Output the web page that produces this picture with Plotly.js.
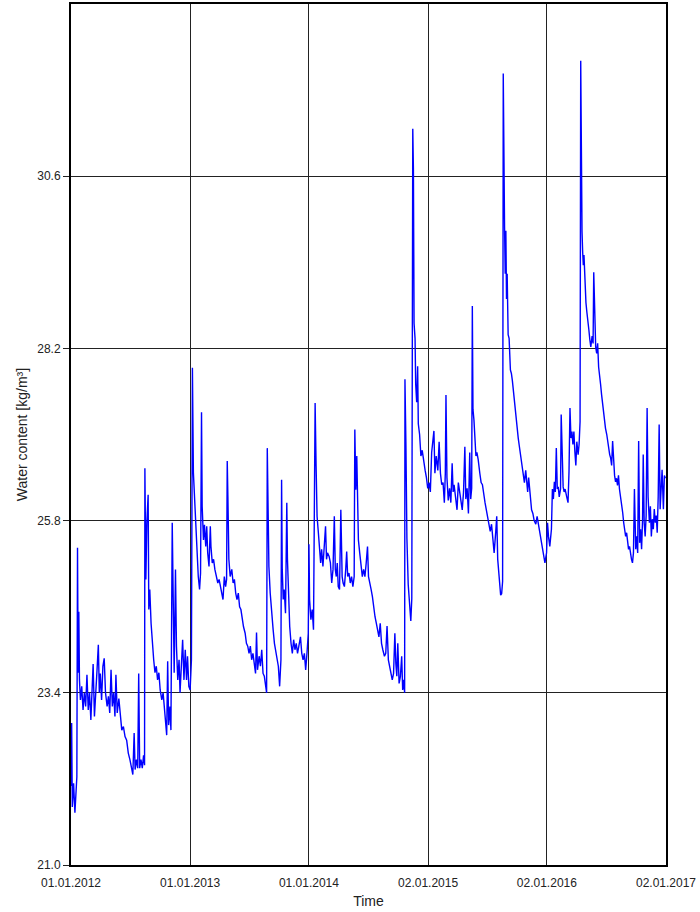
<!DOCTYPE html>
<html>
<head>
<meta charset="utf-8">
<script src="https://cdn.plot.ly/plotly-3.0.1.min.js"></script>
<style>
html,body{margin:0;padding:0;background:#fff;}
#chart{width:700px;height:912px;}
</style>
</head>
<body>
<div id="chart"></div>
<script>
// Day offsets from 01.01.2012 and water content [kg/m³]
const days2012 = [0,2,4,8,12,15,18,20,22,24,26,29,33,37,41,45,49,53,57,61,65,68,72,76,80,84,87,90,94,98,102,106,111,115,119,123,127,131,135,138,142,147,152,156,161,166,171,176,181,186,190,194,197,201,205,208,211,215,219,223,226,227,230,233,237,239,242,246,250,254,258,262,266,270,274,279,283,287,291,294,297,300,304,307,311,314,317,321,324,328,332,335,339,343,347,351,355,358,362];
const wc2012 = [22.10,22.98,21.81,22.14,21.73,22.00,22.23,25.42,23.68,24.53,23.58,23.30,23.49,23.16,23.40,23.21,23.65,23.16,23.40,23.02,23.40,23.80,23.07,23.49,23.72,24.07,23.40,23.67,23.30,23.77,23.88,23.40,23.21,23.35,23.12,23.72,23.21,23.40,23.07,23.65,23.12,23.32,23.02,22.88,22.93,22.79,22.74,22.56,22.47,22.33,22.26,22.84,22.33,22.47,22.35,23.67,22.35,22.47,22.35,22.53,22.39,26.53,24.98,25.77,26.16,24.56,24.84,24.37,24.05,23.86,23.68,23.77,23.58,23.68,23.44,23.30,23.40,23.16,23.02,22.81,23.84,22.95,23.21,22.88,25.77,24.14,23.68,25.12,24.05,23.58,23.86,23.40,23.81,24.14,23.58,24.00,23.58,23.91,23.49];

const days2013 = [366,370,373,376,381,384,387,391,395,398,401,403,407,410,414,417,420,424,428,430,434,438,442,446,451,455,459,463,467,471,475,478,480,482,485,489,494,498,502,506,510,514,518,522,526,530,535,539,543,547,551,555,559,563,567,570,573,578,582,586,590,594,598,601,603,605,608,612,616,621,625,629,633,637,641,645,647,649,652,655,659,663,665,668,672,676,680,684,688,692,696,700,705,709,713,717,721,725,729];
const wc2013 = [23.44,23.86,27.93,26.47,25.95,25.67,25.26,25.02,24.84,25.07,27.31,26.00,25.53,25.74,25.44,25.72,25.35,25.16,25.72,25.44,25.21,25.26,25.12,25.02,24.93,24.98,24.88,24.79,24.70,25.02,24.88,24.98,26.63,26.14,25.26,25.02,25.12,24.93,24.98,24.79,24.70,24.79,24.60,24.56,24.42,24.32,24.23,24.09,24.05,23.95,24.05,23.86,23.95,23.77,23.67,24.24,23.72,23.91,23.77,24.00,23.67,23.63,23.44,23.40,26.81,25.95,25.16,24.79,24.51,24.28,24.09,24.00,23.86,23.77,23.49,23.86,26.37,25.12,24.70,24.84,24.51,26.05,25.26,24.70,24.32,24.09,23.95,24.14,24.00,24.09,23.95,24.05,24.18,23.95,23.86,23.95,23.72,23.95,24.23];

const days2014 = [731,733,737,741,745,750,753,756,760,764,767,770,774,778,782,785,788,793,797,801,805,809,812,815,818,821,825,829,833,836,840,844,847,850,854,858,862,866,870,872,875,878,880,883,887,891,895,899,903,907,911,914,917,922,926,930,934,938,942,946,950,954,958,963,967,971,975,979,983,987,991,995,998,1001,1004,1008,1012,1016,1019,1022,1025,1026,1029,1032,1036,1040,1044,1047,1050,1052,1054,1057,1059,1062,1065,1067,1071,1075,1079,1084,1088,1092];
const wc2014 = [25.47,24.70,24.42,24.56,24.28,27.44,26.56,25.86,25.63,25.40,25.21,25.40,25.16,25.44,25.72,25.26,25.35,25.30,25.21,24.93,25.12,25.86,25.12,25.02,25.21,24.88,24.84,25.95,25.02,24.93,24.88,25.12,25.37,25.02,25.07,24.93,25.02,24.88,25.02,27.07,26.23,26.70,25.86,25.53,25.35,25.21,25.02,25.12,25.02,25.21,25.44,25.02,24.93,24.84,24.74,24.56,24.46,24.37,24.28,24.18,24.37,24.09,24.00,23.91,23.95,24.33,23.86,23.77,23.72,23.58,23.67,24.23,23.81,23.63,24.09,23.53,23.63,23.91,23.44,23.58,23.40,27.77,26.85,25.55,24.91,24.56,24.40,24.71,31.26,30.69,28.55,28.34,27.70,27.45,27.95,27.15,27.00,26.70,26.78,26.60,26.50,26.40];

const days2015 = [1096,1100,1104,1108,1112,1115,1118,1122,1127,1131,1135,1139,1143,1147,1150,1152,1155,1159,1163,1167,1171,1174,1177,1182,1186,1190,1194,1198,1202,1206,1210,1213,1217,1221,1225,1228,1231,1233,1235,1238,1241,1244,1247,1251,1256,1260,1264,1268,1272,1276,1280,1284,1288,1292,1296,1300,1305,1308,1311,1314,1317,1320,1323,1326,1328,1330,1332,1334,1336,1338,1340,1343,1346,1350,1353,1356,1359,1362,1365,1368,1371,1374,1377,1380,1385,1389,1393,1397,1400,1403,1406,1409,1412,1415,1419,1423,1428,1432,1436,1442,1446,1451,1456];
const wc2015 = [26.25,26.33,26.20,26.75,26.95,27.05,26.46,26.70,26.50,26.90,26.46,26.30,26.33,26.05,26.46,27.55,26.40,26.08,26.25,26.05,26.60,26.20,26.30,26.10,25.95,26.33,26.20,26.05,25.95,26.20,26.83,26.10,26.25,25.90,26.75,26.10,26.25,28.79,27.35,27.20,26.90,26.70,26.75,26.65,26.46,26.33,26.30,26.15,26.05,25.95,25.86,25.75,25.65,25.75,25.50,25.35,25.65,25.86,25.26,25.06,24.91,24.76,24.78,24.95,32.03,30.44,29.89,29.24,29.84,28.89,29.24,28.39,28.34,27.90,27.85,27.75,27.60,27.45,27.30,27.20,27.05,26.95,26.85,26.75,26.60,26.40,26.33,26.50,26.30,26.20,26.40,26.25,26.10,25.95,25.90,25.80,25.75,25.86,25.75,25.58,25.44,25.30,25.21];

const days2016 = [1461,1464,1467,1471,1476,1479,1482,1485,1488,1491,1494,1497,1500,1504,1506,1509,1512,1515,1518,1523,1527,1530,1533,1536,1539,1542,1545,1548,1551,1554,1558,1561,1564,1566,1568,1570,1572,1574,1576,1578,1580,1582,1585,1588,1591,1594,1597,1601,1604,1606,1609,1612,1615,1618,1621,1624,1627,1630,1633,1636,1639,1642,1646,1649,1652,1655,1658,1661,1664,1667,1670,1673,1676,1679,1682,1685,1689,1692,1695,1698,1701,1704,1707,1710,1713,1716,1719,1722,1725,1728,1731,1735,1738,1741,1744,1747,1750,1753,1756,1758,1761,1764,1767,1770,1773,1777,1780,1783,1786,1789,1792,1795,1798,1801,1804,1807,1810,1813,1816,1820,1823,1826];
const wc2016 = [25.35,25.77,25.58,25.44,25.68,26.24,26.10,26.34,26.20,26.81,26.24,26.27,26.13,26.24,27.28,26.53,26.27,26.20,26.24,26.13,26.05,26.48,27.37,26.95,27.04,26.86,27.04,26.76,26.57,26.90,26.72,26.86,27.18,32.21,30.04,29.83,29.54,29.36,29.50,29.26,28.98,28.84,28.70,28.60,28.46,28.32,28.22,28.37,28.27,29.26,28.46,28.22,28.13,28.27,27.94,27.85,27.70,27.56,27.42,27.28,27.19,27.09,27.00,26.91,26.76,26.72,26.67,26.57,26.91,26.53,26.43,26.34,26.39,26.29,26.43,26.24,26.13,26.00,25.91,25.77,25.68,25.58,25.63,25.49,25.40,25.44,25.30,25.26,25.21,25.35,26.24,25.40,25.58,25.35,26.91,25.49,25.68,25.40,25.82,26.72,25.77,25.58,25.87,27.37,26.13,25.77,26.00,25.58,25.82,25.68,25.96,25.77,25.87,25.63,26.13,27.14,25.96,26.27,26.51,25.96,26.43,26.39];

const xTickVals = ['2012-01-01','2013-01-01','2014-01-01','2015-01-02','2016-01-02','2017-01-02'];
const xTickText = ['01.01.2012','01.01.2013','01.01.2014','02.01.2015','02.01.2016','02.01.2017'];
const yTickVals = [21.0, 23.4, 25.8, 28.2, 30.6];
const yTickText = ['21.0','23.4','25.8','28.2','30.6'];

const BASE = Date.UTC(2012, 0, 1);
function toDate(d) {
  return new Date(BASE + d * 86400000).toISOString().slice(0, 10);
}
const allDays = [].concat(days2012, days2013, days2014, days2015, days2016);
const allWc = [].concat(wc2012, wc2013, wc2014, wc2015, wc2016);

const trace = {
  x: allDays.map(toDate),
  y: allWc,
  type: 'scatter',
  mode: 'lines',
  line: {color: '#0000ff', width: 1.4},
  hoverinfo: 'x+y'
};

const font = {family: 'Liberation Sans, Arial, sans-serif', size: 12, color: '#222'};

const layout = {
  width: 700,
  height: 912,
  margin: {l: 71, r: 34, t: 4, b: 47, pad: 0},
  paper_bgcolor: '#fff',
  plot_bgcolor: '#fff',
  showlegend: false,
  font: font,
  xaxis: {
    type: 'date',
    range: ['2012-01-01', '2017-01-02'],
    tickmode: 'array',
    tickvals: xTickVals,
    ticktext: xTickText,
    ticks: 'outside',
    ticklen: 6,
    tickcolor: 'rgba(0,0,0,0)',
    showgrid: true,
    gridcolor: '#222',
    gridwidth: 1,
    showline: true,
    linecolor: '#000',
    linewidth: 2,
    mirror: true,
    zeroline: false,
    tickfont: {family: font.family, size: 12, color: '#222'},
    title: {text: 'Time', font: {family: font.family, size: 14, color: '#222'}, standoff: 7}
  },
  yaxis: {
    range: [21, 33],
    tickmode: 'array',
    tickvals: yTickVals,
    ticktext: yTickText,
    ticks: 'outside',
    ticklen: 6,
    tickcolor: '#222',
    showgrid: true,
    gridcolor: '#222',
    gridwidth: 1,
    showline: true,
    linecolor: '#000',
    linewidth: 2,
    mirror: true,
    zeroline: false,
    tickfont: {family: font.family, size: 12, color: '#222'},
    title: {text: 'Water content [kg/m³]', font: {family: font.family, size: 14, color: '#222'}, standoff: 6}
  }
};

Plotly.newPlot('chart', [trace], layout, {staticPlot: true, displayModeBar: false});
</script>
</body>
</html>
